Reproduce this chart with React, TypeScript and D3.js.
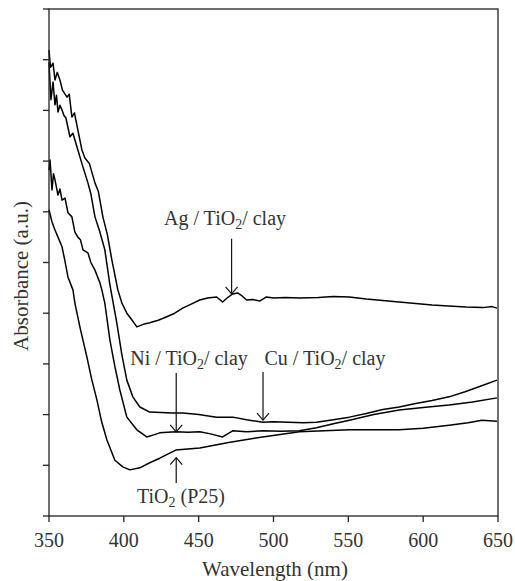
import * as React from "react";
import * as d3 from "d3";

// wavelength (nm), absorbance (a.u.)
const agX = [350, 351, 352.7, 354, 355.5, 357.3, 359, 362, 363.5, 365.3, 367, 369.3, 372, 374, 377, 380.7, 383, 386, 389, 392, 396, 398.7, 402, 405.3, 408.7, 413, 417.3, 423, 428.7, 434, 439.3, 445, 450.7, 456, 462, 466, 469, 472.7, 476, 479, 482, 486, 490.7, 495.3, 500, 508, 517.3, 530, 540, 550.7, 562, 573, 584, 595, 606, 617, 628.7, 640, 646, 649.3];
const agY = [9.19, 8.85, 8.93, 8.6, 8.75, 8.6, 8.4, 8.26, 8.32, 7.87, 7.95, 7.61, 7.22, 7.06, 6.95, 6.57, 6.4, 5.9, 5.55, 5.05, 4.46, 4.2, 4.0, 3.87, 3.73, 3.78, 3.81, 3.86, 3.93, 4.0, 4.1, 4.18, 4.26, 4.3, 4.32, 4.22, 4.3, 4.38, 4.4, 4.34, 4.26, 4.27, 4.24, 4.32, 4.3, 4.31, 4.3, 4.31, 4.33, 4.32, 4.28, 4.25, 4.22, 4.19, 4.16, 4.14, 4.12, 4.11, 4.13, 4.1];

const cuX = [350, 351.3, 352.7, 354, 355, 356, 357.3, 358.7, 360, 361.3, 364, 366, 369.3, 372, 376, 378, 380.7, 384, 387.3, 390.7, 395.3, 398.7, 402, 406, 410.7, 417.3, 425, 432, 439.3, 450, 462, 472.7, 482, 492.7, 500, 510, 520, 528.7, 540, 550.7, 562, 573, 584, 595, 606, 617.3, 628, 640, 649.3];
const cuY = [8.95, 8.21, 8.56, 8.11, 8.3, 7.97, 8.1, 8.01, 7.9, 7.85, 7.48, 7.55, 7.22, 6.95, 6.57, 6.35, 5.9, 5.6, 5.25, 4.56, 3.81, 3.18, 2.68, 2.35, 2.15, 2.05, 2.04, 2.03, 2.03, 2.0, 1.95, 1.95, 1.9, 1.85, 1.86, 1.85, 1.84, 1.85, 1.9, 1.95, 2.02, 2.1, 2.15, 2.22, 2.28, 2.35, 2.45, 2.58, 2.68];

const niX = [350, 350.7, 352, 353, 354, 356, 357.3, 358.7, 360.7, 362.7, 365.3, 367.3, 369.3, 371, 372.7, 376, 378, 380.7, 384, 385.3, 387.3, 390.7, 394, 397.3, 402, 408.7, 415.3, 420, 424, 434.7, 443, 450.7, 458, 466, 472.7, 482, 492.7, 505, 517.3, 528.7, 540, 550.7, 567, 584, 600, 617.3, 633, 649.3];
const niY = [6.82, 7.02, 6.43, 6.75, 6.63, 6.33, 6.45, 6.23, 6.27, 5.98, 5.9, 5.6, 5.5, 5.45, 5.25, 5.19, 5.0, 4.85, 4.6, 4.46, 4.2, 3.47, 2.95, 2.49, 1.95, 1.7, 1.56, 1.6, 1.64, 1.66, 1.65, 1.66, 1.62, 1.56, 1.68, 1.66, 1.68, 1.67, 1.68, 1.74, 1.82, 1.89, 2.0, 2.09, 2.14, 2.19, 2.25, 2.33];

const tiX = [350, 352, 354, 356, 358.7, 360.5, 362.7, 366, 367.3, 371, 375.3, 378.5, 382, 385, 388.7, 394, 399.3, 404, 410.7, 417.3, 424, 430.7, 434.7, 450.7, 470, 492.7, 517.3, 550.7, 584, 600, 617.3, 630, 639.3, 649.3];
const tiY = [6.04, 5.8, 5.64, 5.5, 5.31, 5.05, 4.71, 4.46, 4.2, 3.68, 3.14, 2.7, 2.29, 1.88, 1.5, 1.1, 0.97, 0.91, 0.95, 1.05, 1.14, 1.24, 1.3, 1.34, 1.45, 1.56, 1.66, 1.7, 1.7, 1.73, 1.79, 1.84, 1.89, 1.87];

const xTicks = [350, 400, 450, 500, 550, 600, 650];
const yTicks = [0, 1, 2, 3, 4, 5, 6, 7, 8, 9, 10];

// annotations: label, arrow wavelength, arrow tip value, arrow start value
const labels = [
  { name: "Ag", x: 225, ax: 472, tip: 4.38, from: 5.47 },
  { name: "Ni", x: 189, ax: 435, tip: 1.66, from: 2.82 },
  { name: "Cu", x: 325, ax: 493, tip: 1.89, from: 2.84 },
];

const font = "'Liberation Serif', 'DejaVu Serif', serif";

const Arrow = ({ x, y1, y2 }: { x: number; y1: number; y2: number }) => {
  const s = y2 > y1 ? -1 : 1;
  return (
    <g stroke="#111" strokeWidth={1.2} fill="none">
      <line x1={x} x2={x} y1={y1} y2={y2} />
      <path d={`M${x - 6},${y2 + s * 7} L${x},${y2} L${x + 6},${y2 + s * 7}`} />
    </g>
  );
};

const Sub = ({ pre, post, x, y }: any) => (
  <text x={x} y={y} textAnchor="middle" fontFamily={font} fontSize={20} fill="#333">
    {pre}
    <tspan fontSize={14} dy={4}>2</tspan>
    <tspan dy={-4}>{post}</tspan>
  </text>
);

export default function App() {
  const width = 515;
  const height = 581;
  const m = { left: 49, right: 17, top: 9, bottom: 65 };

  const x = d3.scaleLinear().domain([350, 650]).range([m.left, width - m.right]);
  const y = d3.scaleLinear().domain([0, 10]).range([height - m.bottom, m.top]);

  const line = d3
    .line<[number, number]>()
    .x(d => x(d[0]))
    .y(d => y(d[1]));

  const series = [
    d3.zip(agX, agY),
    d3.zip(cuX, cuY),
    d3.zip(niX, niY),
    d3.zip(tiX, tiY),
  ] as [number, number][][];

  const x0 = m.left;
  const x1 = width - m.right;
  const y0 = height - m.bottom;
  const y1 = m.top;

  return (
    <svg width={width} height={height} style={{ position: "absolute", left: 0, top: 0 }}>
      <rect width={width} height={height} fill="#fff" />
      {series.map((s, i) => (
        <path key={i} d={line(s) || ""} fill="none" stroke="#000" strokeWidth={1.5} strokeLinejoin="round" />
      ))}

      {/* frame */}
      <rect x={x0} y={y1} width={x1 - x0} height={y0 - y1} fill="none" stroke="#222" strokeWidth={1.3} />
      {yTicks.map(t => (
        <line key={t} x1={x0 - 6} x2={x0} y1={y(t)} y2={y(t)} stroke="#222" strokeWidth={1.3} />
      ))}
      {xTicks.map(t => (
        <g key={t}>
          <line x1={x(t)} x2={x(t)} y1={y0} y2={y0 + 6} stroke="#222" strokeWidth={1.3} />
          <text x={x(t)} y={y0 + 31} textAnchor="middle" fontFamily={font} fontSize={20} fill="#333">
            {t}
          </text>
        </g>
      ))}
      <text x={275} y={576} textAnchor="middle" fontFamily={font} fontSize={21} fill="#333">
        Wavelength (nm)
      </text>
      <text
        transform={`translate(28,276) rotate(-90)`}
        textAnchor="middle"
        fontFamily={font}
        fontSize={21}
        fill="#333"
      >
        Absorbance (a.u.)
      </text>

      {/* annotations */}
      {labels.map(l => (
        <g key={l.name}>
          <Sub pre={`${l.name} / TiO`} post="/ clay" x={l.x} y={l.name === "Ag" ? 225 : 365} />
          <Arrow x={x(l.ax)} y1={y(l.from)} y2={y(l.tip)} />
        </g>
      ))}
      <Sub pre="TiO" post=" (P25)" x={181} y={503} />
      <Arrow x={x(435)} y1={y(0.65)} y2={y(1.15)} />
    </svg>
  );
}
